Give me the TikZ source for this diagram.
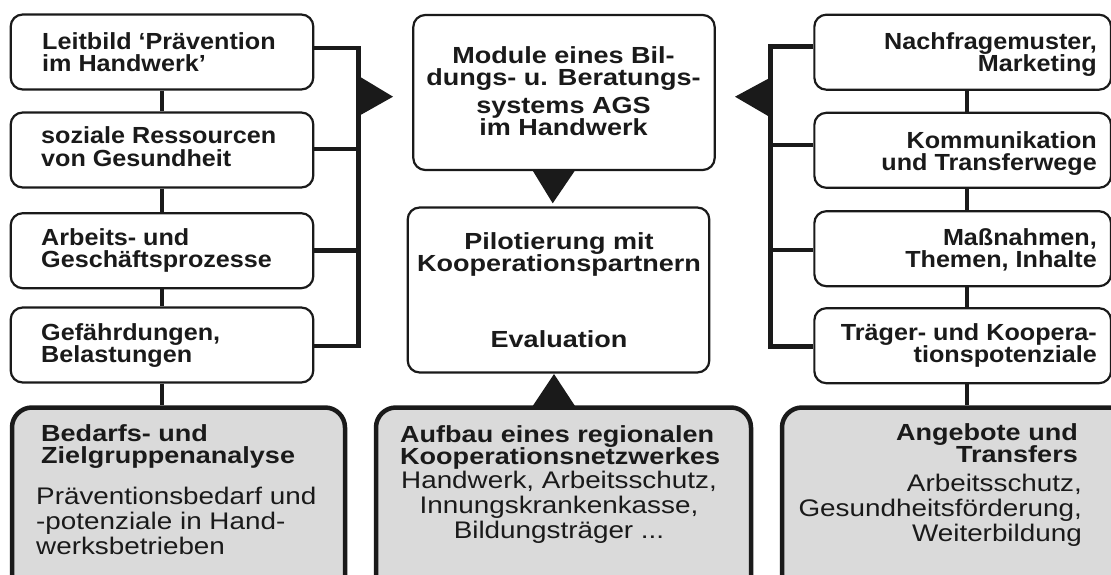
\documentclass[tikz,border=0pt]{standalone}
\usepackage{fontspec}
\setmainfont{Liberation Sans}[FakeStretch=1.16]
\newfontfamily\narrowfont{Liberation Sans}[FakeStretch=1.08]
\definecolor{ink}{HTML}{1A1A1A}
\definecolor{graybg}{HTML}{DADADA}
\newcommand\bfnt{\fontsize{23.3}{22}\selectfont\bfseries}
\newcommand\nfnt{\narrowfont\fontsize{23.3}{22}\selectfont\bfseries}
\newcommand\rfnt{\fontsize{24}{25}\selectfont}
\newcommand\TL[1]{\vtop{\lineskiplimit=-50pt\halign{##\hfil\cr#1\crcr}}}
\newcommand\TR[1]{\vtop{\lineskiplimit=-50pt\halign{\hfil##\cr#1\crcr}}}
\newcommand\TC[1]{\vtop{\lineskiplimit=-50pt\halign{\hfil##\hfil\cr#1\crcr}}}
\begin{document}
\begin{tikzpicture}[x=1pt,y=-1pt,
  wbox/.style={draw=ink, line width=2.2pt, rounded corners=12pt, fill=white, inner sep=0pt, minimum width=302.6pt, minimum height=75pt},
  gbox/.style={draw=ink, line width=4.5pt, rounded corners=20pt, fill=graybg, inner sep=0pt},
  conn/.style={draw=ink, line width=4.6pt},
  tri/.style={fill=ink, draw=none},
  bt/.style={inner sep=0pt, text=ink, font=\bfnt},
  nt/.style={inner sep=0pt, text=ink, font=\nfnt},
  rt/.style={inner sep=0pt, text=ink, font=\rfnt}]
\useasboundingbox (0,0) rectangle (1111,575);
\clip (0,0) rectangle (1111,575);

% gray boxes (bottom row)
\node[gbox, minimum width=333pt, minimum height=240pt] (GL) at (178.5,527.5) {};
\node[gbox, minimum width=375pt, minimum height=240pt] (GC) at (563.5,527.5) {};
\node[gbox, minimum width=360pt, minimum height=240pt] (GR) at (962,527.5) {};

% left column
\node[wbox] (L1) at (162,52) {};
\node[wbox] (L2) at (162,150) {};
\node[wbox] (L3) at (162,250.7) {};
\node[wbox] (L4) at (162,345) {};
% right column
\node[wbox, minimum width=296.7pt] (R1) at (962.7,52.2) {};
\node[wbox, minimum width=296.7pt] (R2) at (962.7,150.3) {};
\node[wbox, minimum width=296.7pt] (R3) at (962.7,248.7) {};
\node[wbox, minimum width=296.7pt] (R4) at (962.7,345.7) {};
% centre column
\node[wbox, minimum width=301.4pt, minimum height=155pt] (C1) at (564,92.5) {};
\node[wbox, minimum width=301.6pt, minimum height=165pt] (C2) at (558.5,290) {};

% vertical connectors
\draw[conn] (L1.south) -- (L2.north);
\draw[conn] (L2.south) -- (L3.north);
\draw[conn] (L3.south) -- (L4.north);
\draw[conn] (L4.south) -- (L4.south |- GL.north);
\draw[conn] ([xshift=4.3pt]R1.south) -- ([xshift=4.3pt]R2.north);
\draw[conn] ([xshift=4.3pt]R2.south) -- ([xshift=4.3pt]R3.north);
\draw[conn] ([xshift=4.3pt]R3.south) -- ([xshift=4.3pt]R4.north);
\draw[conn] ([xshift=4.3pt]R4.south) -- ([xshift=4.3pt]R4.south |- GR.north);

% left bracket
\coordinate (bL) at (358.5,48);
\coordinate (bLb) at (358.5,346);
\draw[conn] ([yshift=4pt]L1.east) -- (bL) -- (bLb) -- ([yshift=-1pt]L4.east);
\draw[conn] ([yshift=1pt]L2.east) -- ([yshift=1pt]L2.east -| bL);
\draw[conn] (L3.east) -- (L3.east -| bL);
\fill[tri] (357,75) -- (393,96.7) -- (357,117) -- cycle;

% right bracket
\coordinate (bR) at (770.5,46.7);
\coordinate (bRb) at (770.5,346.3);
\draw[conn] ([yshift=5.5pt]R1.west) -- (bR) -- (bRb) -- ([yshift=-0.6pt]R4.west);
\draw[conn] ([yshift=5.3pt]R2.west) -- ([yshift=5.3pt]R2.west -| bR);
\draw[conn] ([yshift=-1.3pt]R3.west) -- ([yshift=-1.3pt]R3.west -| bR);
\fill[tri] (772,76.7) -- (735,96.7) -- (772,118.3) -- cycle;

% centre triangles
\fill[tri] (531.7,169) -- (576,169) -- (552.7,203.3) -- cycle;
\fill[tri] (532.7,406) -- (575,406) -- (554,374) -- cycle;

% texts left
\node[nt, anchor=base west] (tL1) at (42,50) {\TL{Leitbild ‘Prävention\cr im Handwerk’}};
\node[nt, anchor=base west] (tL2) at (41,144) {\TL{soziale Ressourcen\cr von Gesundheit}};
\node[nt, anchor=base west] (tL3) at (41,245) {\TL{Arbeits- und\cr Geschäftsprozesse}};
\node[nt, anchor=base west] (tL4) at (41,340) {\TL{Gefährdungen,\cr Belastungen}};
% texts right
\node[nt, anchor=base east] (tR1) at (1097,50) {\TR{Nachfragemuster,\cr Marketing}};
\node[nt, anchor=base east] (tR2) at (1097,149) {\TR{Kommunikation\cr und Transferwege}};
\node[nt, anchor=base east] (tR3) at (1097,245) {\TR{Maßnahmen,\cr Themen, Inhalte}};
\node[nt, anchor=base east] (tR4) at (1097,340) {\TR{Träger- und Koopera-\cr tionspotenziale}};
% texts centre
\node[bt, anchor=base] (tC1) at (563.5,64) {\TC{Module eines Bil-\cr dungs- u. Beratungs-\cr\noalign{\vskip6pt} systems AGS\cr im Handwerk}};
\node[bt, anchor=base] (tC2) at (559,249) {\TC{Pilotierung mit\cr Kooperationspartnern}};
\node[bt, anchor=base] (tC3) at (559,347) {Evaluation};
% gray texts
\node[bt, anchor=base west] (gL1) at (41,441) {\TL{Bedarfs- und\cr Zielgruppenanalyse}};
\node[rt, anchor=base west] (gL2) at (36,504) {\TL{Präventionsbedarf und\cr -potenziale in Hand-\cr werksbetrieben}};
\node[bt, anchor=base west] (gC1) at (400,442) {\TL{Aufbau eines regionalen\cr Kooperationsnetzwerkes}};
\node[rt, anchor=base] (gC2) at (559,488.5) {\TC{Handwerk, Arbeitsschutz,\cr Innungskrankenkasse,\cr Bildungsträger ...}};
\node[bt, anchor=base east] (gR1) at (1078,440) {\TR{Angebote und\cr Transfers}};
\node[rt, anchor=base east] (gR2) at (1082,491.5) {\TR{Arbeitsschutz,\cr Gesundheitsförderung,\cr Weiterbildung}};
\end{tikzpicture}
\end{document}
